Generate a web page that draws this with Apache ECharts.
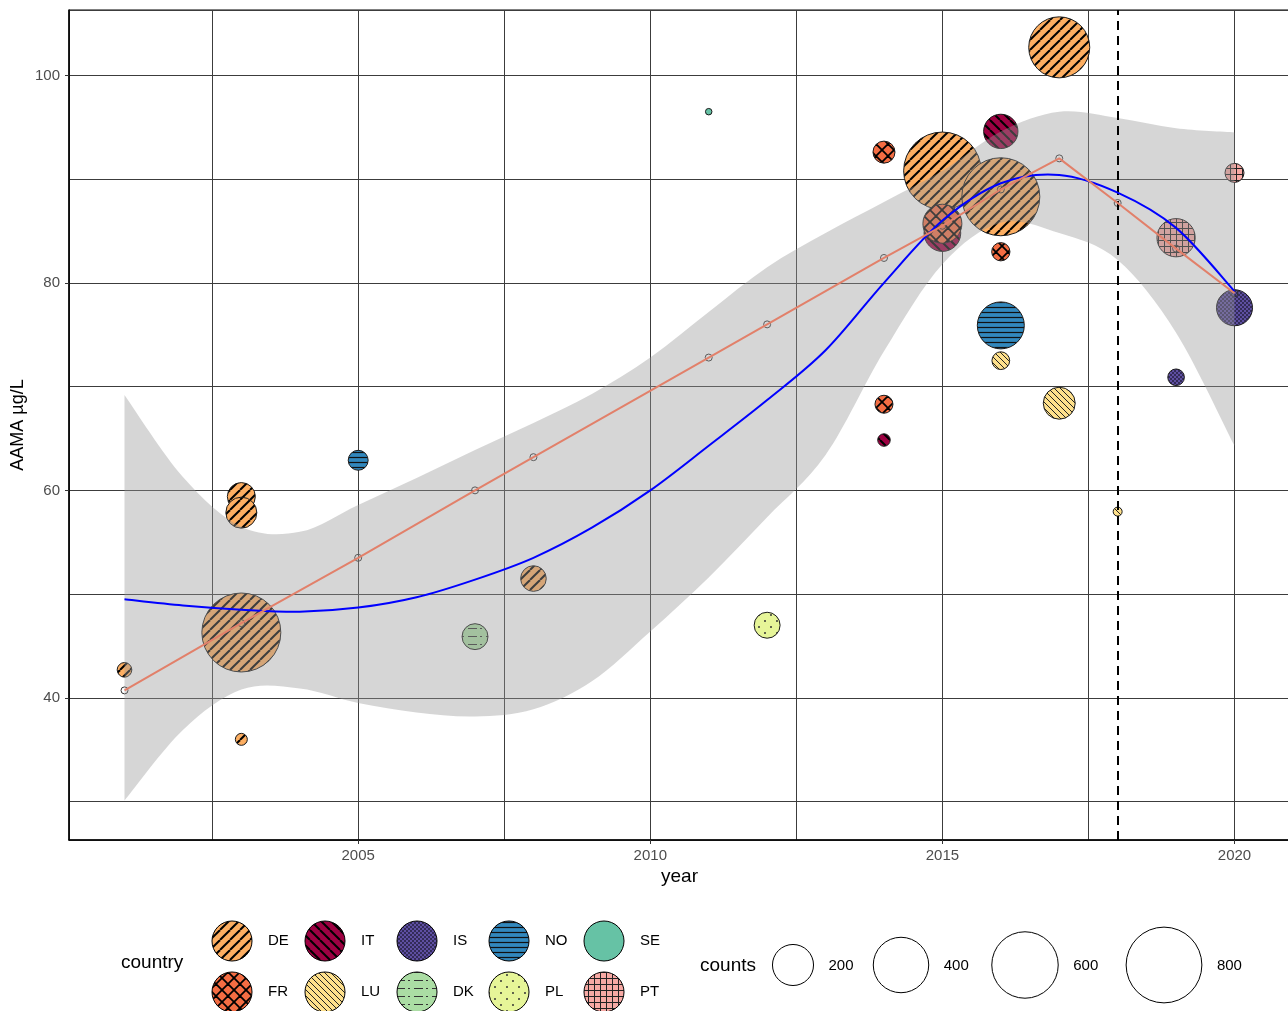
<!DOCTYPE html>
<html>
<head>
<meta charset="utf-8">
<script src="https://cdn.jsdelivr.net/npm/echarts@6/dist/echarts.min.js"></script>
<style>
  html, body { margin: 0; padding: 0; background: #fff; }
  #chart { width: 1288px; height: 1011px; }
</style>
</head>
<body>
<div id="chart"></div>
<script>
// Countries, in legend order
const countries = ['DE', 'IT', 'IS', 'NO', 'SE', 'FR', 'LU', 'DK', 'PL', 'PT'];

// Individual measurements (drawing order): country, year, AAMA (µg/L), counts
const ptCountry = ['DE','DE','DE','DE','DE','NO','DK','DE','SE','PL','FR','FR','IT','DE','IT','FR','IT','DE','FR','NO','LU','DE','LU','LU','PT','IS','PT','IS'];
const ptYear    = [2001,2003,2003,2003,2003,2005,2007,2008,2011,2012,2014,2014,2014,2015,2015,2015,2016,2016,2016,2016,2016,2017,2017,2018,2019,2019,2020,2020];
const ptValue   = [42.7,59.4,57.85,46.3,36.0,62.9,45.9,51.5,96.5,47.0,92.6,68.3,64.85,90.8,84.8,85.7,94.6,88.3,83.0,75.9,72.5,102.7,68.4,57.95,84.35,70.9,90.6,77.6];
const ptCount   = [12,78,101,876,6,31,64,62,1,64,41,23,7,841,153,177,130,853,24,274,22,496,109,2,169,18,27,146];

// Model fit at the sampled years
const fitYears  = [2001,2003,2005,2007,2008,2011,2012,2014,2015,2016,2017,2018,2019,2020];
const fitValues = [40.72,47.2,53.5,60.0,63.2,72.8,76.0,82.4,85.5,89.0,92.0,87.7,83.3,79.0];

// LOESS smooth with its confidence band
const smoothYears  = [2001,2002,2003,2004,2005,2006,2007,2008,2009,2010,2011,2012,2013,2014,2015,2016,2017,2018,2019,2020];
const smoothValues = [49.5,48.9,48.5,48.3,48.7,49.7,51.4,53.5,56.4,60.0,64.3,68.7,73.5,80.0,86.0,89.6,90.4,88.7,85.3,79.2];
const bandLower    = [30.1,36.9,40.8,40.9,39.5,38.6,38.2,38.9,41.6,46.4,51.6,57.4,63.4,73.4,81.8,85.8,84.8,82.2,75.2,64.3];
const bandUpper    = [69.2,61.3,56.5,56.0,58.6,61.2,63.9,66.5,69.3,72.8,77.2,81.5,84.8,87.8,90.8,94.6,96.5,95.9,94.9,94.5];

// Vertical reference year
const cutoffYear = 2018;

// Axis tick labels
const xTickLabels = [2005, 2010, 2015, 2020];
const yTickLabels = [40, 60, 80, 100];

// Size legend breaks
const countBreaks = [200, 400, 600, 800];

// ---- styling ----
const FONT = '"Liberation Sans", Arial, Helvetica, sans-serif';
const fillColor = {
  DE: '#FDAE61', IT: '#9E0142', IS: '#5E4FA2', NO: '#3288BD', SE: '#66C2A5',
  FR: '#F46D43', LU: '#FEE08B', DK: '#ABDDA4', PL: '#E6F598', PT: '#F7A9A4'
};

function tile(w, h, bg, draw) {
  const c = document.createElement('canvas');
  c.width = w; c.height = h;
  const g = c.getContext('2d');
  g.fillStyle = bg; g.fillRect(0, 0, w, h);
  if (draw) { g.strokeStyle = '#000'; g.fillStyle = '#000'; draw(g, w, h); }
  return { image: c, repeat: 'repeat' };
}
function diagonal(g, T, up) {
  for (let k = -1; k <= 1; k++) {
    g.beginPath();
    if (up) { g.moveTo(k * T, T); g.lineTo(k * T + T, 0); }
    else    { g.moveTo(k * T, 0); g.lineTo(k * T + T, T); }
    g.stroke();
  }
}
const patterns = {
  DE: tile(10, 10, fillColor.DE, (g, w) => { g.lineWidth = 2; diagonal(g, w, true); }),
  IT: tile(10, 10, fillColor.IT, (g, w) => { g.lineWidth = 2; diagonal(g, w, false); }),
  IS: tile(4, 4, fillColor.IS, (g) => { g.fillStyle = 'rgba(0,0,0,0.45)'; g.fillRect(0, 0, 2, 2); g.fillRect(2, 2, 2, 2); }),
  NO: tile(8, 5, fillColor.NO, (g, w) => { g.strokeStyle = '#111'; g.lineWidth = 1.2; g.beginPath(); g.moveTo(0, 2.5); g.lineTo(w, 2.5); g.stroke(); }),
  SE: fillColor.SE,
  FR: tile(12, 12, fillColor.FR, (g, w) => { g.lineWidth = 1.8; diagonal(g, w, true); diagonal(g, w, false); }),
  LU: tile(6, 6, fillColor.LU, (g, w) => { g.lineWidth = 1; g.strokeStyle = '#222'; diagonal(g, w, false); }),
  DK: tile(18, 8, fillColor.DK, (g) => {
    g.strokeStyle = '#333'; g.lineWidth = 1;
    g.beginPath(); g.moveTo(0, 4.5); g.lineTo(9, 4.5); g.moveTo(12, 4.5); g.lineTo(14, 4.5); g.stroke();
  }),
  PL: tile(12, 12, fillColor.PL, (g) => {
    g.fillStyle = '#333';
    g.beginPath(); g.arc(3, 3, 1, 0, Math.PI * 2); g.arc(9, 9, 1, 0, Math.PI * 2); g.fill();
  }),
  PT: tile(6, 6, fillColor.PT, (g) => {
    g.strokeStyle = '#222'; g.lineWidth = 1;
    g.beginPath(); g.moveTo(0.5, 0); g.lineTo(0.5, 6); g.moveTo(0, 0.5); g.lineTo(6, 0.5); g.stroke();
  })
};

// point diameter from counts (area-style scaling)
function sizeOf(c) { return 6.5 + 2.45 * Math.sqrt(Math.max(c - 1, 0)); }

// Catmull-Rom spline through pixel points, as SVG path commands
function splineCmds(pts, startWithMove) {
  let d = startWithMove ? 'M' + pts[0][0] + ',' + pts[0][1] : 'L' + pts[0][0] + ',' + pts[0][1];
  for (let i = 0; i < pts.length - 1; i++) {
    const p0 = pts[Math.max(i - 1, 0)], p1 = pts[i], p2 = pts[i + 1], p3 = pts[Math.min(i + 2, pts.length - 1)];
    const c1x = p1[0] + (p2[0] - p0[0]) / 6, c1y = p1[1] + (p2[1] - p0[1]) / 6;
    const c2x = p2[0] - (p3[0] - p1[0]) / 6, c2y = p2[1] - (p3[1] - p1[1]) / 6;
    d += 'C' + c1x + ',' + c1y + ',' + c2x + ',' + c2y + ',' + p2[0] + ',' + p2[1];
  }
  return d;
}

// ---- legends (graphic) ----
const legend = [];
legend.push({ type: 'text', style: { text: 'country', x: 121, y: 963, verticalAlign: 'middle', font: '19px ' + FONT, fill: '#000' } });
const colX = [232, 325, 417, 509, 604], rowY = [941, 992];
countries.forEach((c, i) => {
  const cx = colX[i % 5], cy = rowY[Math.floor(i / 5)];
  legend.push({ type: 'circle', shape: { cx, cy, r: 20 }, style: { fill: patterns[c], stroke: '#000', lineWidth: 1 } });
  legend.push({ type: 'text', style: { text: c, x: cx + 36, y: cy, verticalAlign: 'middle', font: '15px ' + FONT, fill: '#000' } });
});
legend.push({ type: 'text', style: { text: 'counts', x: 700, y: 966, verticalAlign: 'middle', font: '19px ' + FONT, fill: '#000' } });
const sizeX = [793, 901, 1025, 1164];
countBreaks.forEach((b, i) => {
  const r = sizeOf(b) / 2;
  legend.push({ type: 'circle', shape: { cx: sizeX[i], cy: 965, r }, style: { fill: '#fff', stroke: '#000', lineWidth: 1 } });
  legend.push({ type: 'text', style: { text: String(b), x: sizeX[i] + r + 15, y: 966, verticalAlign: 'middle', font: '15px ' + FONT, fill: '#000' } });
});

const gridLine = { show: true, lineStyle: { color: '#3c3c3c', width: 1 } };

const chart = echarts.init(document.getElementById('chart'), null, { renderer: 'canvas' });
chart.setOption({
  animation: false,
  backgroundColor: '#fff',
  grid: {
    left: 69, top: 10, width: 1221, height: 830, containLabel: false, outerBoundsMode: 'none',
    show: true, borderColor: '#000', borderWidth: 1, backgroundColor: 'transparent'
  },
  xAxis: [
    {
      type: 'value', min: 2000.05, max: 2020.95, splitNumber: 4, minInterval: 5, maxInterval: 5,
      axisLine: { show: true, onZero: false, lineStyle: { color: '#000', width: 1.5 } },
      axisTick: { show: true, length: 4, customValues: xTickLabels, lineStyle: { color: '#333' } },
      axisLabel: { customValues: xTickLabels, formatter: v => String(v), color: '#4d4d4d', fontSize: 15, fontFamily: FONT, margin: 8 },
      splitLine: gridLine,
      name: 'year', nameLocation: 'middle', nameGap: 27, nameMoveOverlap: false,
      nameTextStyle: { color: '#000', fontSize: 19, fontFamily: FONT }
    },
    {
      type: 'value', min: 2000.05, max: 2020.95, splitNumber: 8, minInterval: 2.5, maxInterval: 2.5, position: 'bottom',
      axisLine: { show: false }, axisTick: { show: false }, axisLabel: { show: false },
      splitLine: gridLine
    }
  ],
  yAxis: [
    {
      type: 'value', min: 26.3, max: 106.3, splitNumber: 4, minInterval: 20, maxInterval: 20,
      axisLine: { show: true, onZero: false, lineStyle: { color: '#000', width: 1.5 } },
      axisTick: { show: true, length: 4, customValues: yTickLabels, lineStyle: { color: '#333' } },
      axisLabel: { customValues: yTickLabels, formatter: v => String(v), color: '#4d4d4d', fontSize: 15, fontFamily: FONT, margin: 9 },
      splitLine: gridLine,
      name: 'AAMA µg/L', nameLocation: 'middle', nameGap: 42, nameMoveOverlap: false,
      nameTextStyle: { color: '#000', fontSize: 18, fontFamily: FONT }
    },
    {
      type: 'value', min: 26.3, max: 106.3, splitNumber: 8, minInterval: 10, maxInterval: 10, position: 'left',
      axisLine: { show: false }, axisTick: { show: false }, axisLabel: { show: false },
      splitLine: gridLine
    }
  ],
  graphic: { elements: legend },
  series: [
    {
      // measurements: pattern-filled bubbles sized by counts
      type: 'custom', name: 'points', z: 2, silent: true,
      data: ptYear.map((y, i) => [y, ptValue[i], ptCount[i]]),
      encode: { x: 0, y: 1 },
      renderItem(params, api) {
        const p = api.coord([api.value(0), api.value(1)]);
        const r = sizeOf(api.value(2)) / 2;
        return {
          type: 'circle', shape: { cx: p[0], cy: p[1], r },
          style: { fill: patterns[ptCountry[params.dataIndex]], stroke: '#1a1a1a', lineWidth: 1 }
        };
      }
    },
    {
      // model fit markers (under the band)
      type: 'scatter', name: 'fitPoints', z: 3, silent: true,
      data: fitYears.map((y, i) => [y, fitValues[i]]),
      symbol: 'circle', symbolSize: 7,
      itemStyle: { color: 'rgba(0,0,0,0)', borderColor: '#333', borderWidth: 1, opacity: 1 }
    },
    {
      // confidence band of the smooth
      type: 'custom', name: 'band', z: 4, silent: true,
      data: smoothYears.map((y, i) => [y, bandLower[i], bandUpper[i]]),
      encode: { x: 0, y: [1, 2] },
      renderItem(params, api) {
        if (params.dataIndex !== 0) return null;
        const up = smoothYears.map((y, i) => api.coord([y, bandUpper[i]]));
        const lo = smoothYears.map((y, i) => api.coord([y, bandLower[i]])).reverse();
        const d = splineCmds(up, true) + splineCmds(lo, false) + 'Z';
        return { type: 'path', shape: { pathData: d }, style: { fill: 'rgba(153,153,153,0.4)', stroke: null } };
      }
    },
    {
      type: 'line', name: 'fit', z: 5, silent: true,
      data: fitYears.map((y, i) => [y, fitValues[i]]),
      symbol: 'none', lineStyle: { color: '#E2806A', width: 2 },
      markLine: {
        silent: true, symbol: ['none', 'none'], label: { show: false },
        lineStyle: { color: '#000', type: [9, 6], width: 2 },
        data: [{ xAxis: cutoffYear }]
      }
    },
    {
      // LOESS smooth
      type: 'custom', name: 'loess', z: 5, silent: true,
      data: smoothYears.map((y, i) => [y, smoothValues[i]]),
      encode: { x: 0, y: 1 },
      renderItem(params, api) {
        if (params.dataIndex !== 0) return null;
        const pts = smoothYears.map((y, i) => api.coord([y, smoothValues[i]]));
        return { type: 'path', shape: { pathData: splineCmds(pts, true) }, style: { fill: null, stroke: '#0000FF', lineWidth: 2 } };
      }
    }
  ]
});
</script>
</body>
</html>
